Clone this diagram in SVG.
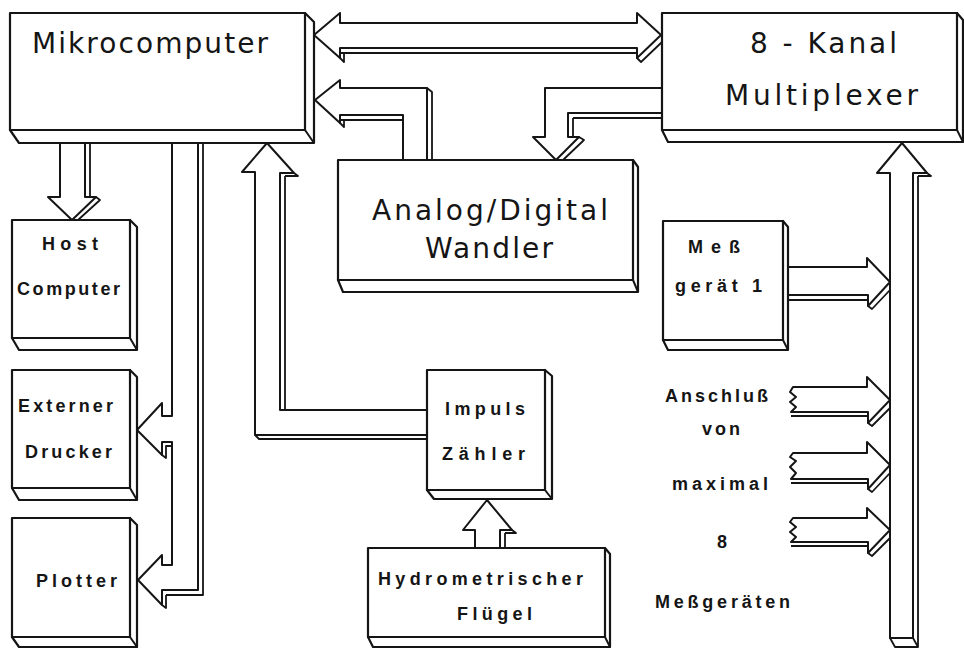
<svg xmlns="http://www.w3.org/2000/svg" width="964" height="648" viewBox="0 0 964 648">
<defs>
<style>
.b{fill:#fff;stroke:#151515;stroke-width:2.2;stroke-linejoin:round}
.l{fill:none;stroke:#151515;stroke-width:2;stroke-linejoin:round}
.a{fill:#fff;stroke:#151515;stroke-width:2;stroke-linejoin:round}
.s{fill:none;stroke:#151515;stroke-width:1.8;stroke-linejoin:round}
.t1{font-family:"DejaVu Sans","Liberation Sans",sans-serif;font-size:28px;fill:#151515}
.t2{font-family:"Liberation Sans",Arial,sans-serif;font-weight:bold;font-size:18px;fill:#151515}
</style>
</defs>
<rect width="964" height="648" fill="#fff"/>
<g id="connectors">
<!-- Mikrocomputer <-> Multiplexer -->
<path class="a" d="M314,35 L340,13 L340,23 L637,23 L637,13 L661,35 L637,58 L637,48 L340,48 L340,58 Z"/>
<path class="s" d="M340,53 L637,53 M340,58 L344,62 L344,53 M637,58 L641,62 L662,42"/>
<!-- A/D -> Mikrocomputer -->
<path class="a" d="M315,100 L340,80 L340,88 L427,88 L427,160 L403,160 L403,115 L340,115 L340,123 Z"/>
<path class="s" d="M427,88 L432,92 L432,160 M340,120 L403,120 M340,123 L344,127 L344,120"/>
<!-- Multiplexer -> A/D -->
<path class="a" d="M662,88 L545,88 L545,137 L533,137 L556,160 L579,137 L568,137 L568,113 L662,113 Z"/>
<path class="s" d="M573,118 L662,118 M573,118 L573,137 M579,137 L584,140 L563,160"/>
<!-- Mikrocomputer -> Host -->
<path class="a" d="M60,143 L60,197 L48,197 L72,220 L96,197 L85,197 L85,143 Z"/>
<path class="s" d="M90,143 L90,197 M96,197 L100,200 L78,220"/>
<!-- bus to Drucker / Plotter -->
<path class="a" d="M172,143 L172,416 L162,416 L162,403 L137,430 L162,455 L162,442 L172,442 L172,565 L162,565 L162,555 L138,580 L162,605 L162,590 L198,590 L198,143 Z"/>
<path class="s" d="M203,143 L203,595 L166,595 M162,605 L166,608 L166,595 M162,455 L166,458 L166,446 L172,446"/>
<!-- Impuls Zähler -> Mikrocomputer -->
<path class="a" d="M427,410 L280,410 L280,173 L294,173 L267,143 L242,172 L255,172 L255,435 L427,435 Z"/>
<path class="s" d="M285,176 L285,410 M255,435 L259,439 L427,439 M294,173 L298,176 L285,176"/>
<!-- Hydrometrischer Flügel -> Impuls Zähler -->
<path class="a" d="M475,548 L475,530 L463,530 L487,500 L512,530 L500,530 L500,548 Z"/>
<path class="s" d="M505,533 L505,548 M512,530 L516,533 L505,533"/>
<!-- Multiplexer bus -->
<path class="a" d="M890,638 L890,173 L877,173 L902,143 L927,173 L913,173 L913,638 Z"/>
<path class="s" d="M918,176 L918,647 L895,647 L890,638 M913,638 L918,647 M927,173 L931,176 L918,176"/>
<!-- Meßgerät 1 -> bus -->
<path class="a" d="M788,267 L867,267 L867,258 L890,282 L868,306 L868,295 L788,295 Z"/>
<path class="s" d="M788,300 L868,300 M868,306 L872,309 L890,290"/>
<!-- Anschluß arrows -->
<path class="a" d="M793,387 L867,387 L867,377 L890,400 L868,423 L868,412 L791,412 L796,407 L790,402 L796,397 L790,392 Z"/>
<path class="s" d="M791,416 L868,416 M868,423 L872,426 L890,408"/>
<path class="a" d="M793,453 L867,453 L867,442 L890,465 L868,489 L868,479 L791,479 L796,473 L790,467 L796,461 L790,457 Z"/>
<path class="s" d="M791,483 L868,483 M868,489 L872,492 L890,473"/>
<path class="a" d="M793,518 L867,518 L867,508 L890,530 L868,553 L868,542 L791,542 L796,537 L790,532 L796,527 L790,522 Z"/>
<path class="s" d="M791,546 L868,546 M868,553 L872,556 L890,538"/>
</g>
<g id="mikrocomputer">
<path class="b" d="M305,13 L314,22 L314,143 L19,143 L10,130 Z"/>
<path class="l" d="M305,130 L314,143"/>
<rect class="b" x="10" y="13" width="295" height="117"/>
<text class="t1" x="32" y="53" textLength="236">Mikrocomputer</text>
</g>
<g id="multiplexer">
<path class="b" d="M957,13 L963,20 L963,142 L668,142 L662,130 Z"/>
<path class="l" d="M957,130 L963,142"/>
<rect class="b" x="662" y="13" width="295" height="117"/>
<text class="t1" x="750" y="53" textLength="147" font-size="27">8 - Kanal</text>
<text class="t1" x="725" y="105" textLength="193" font-size="27">Multiplexer</text>
</g>
<g id="ad-wandler">
<path class="b" d="M633,160 L638,167 L638,292 L343,292 L338,280 Z"/>
<path class="l" d="M633,280 L638,292"/>
<rect class="b" x="338" y="160" width="295" height="120"/>
<text class="t1" x="372" y="220" textLength="236" font-size="30">Analog/Digital</text>
<text class="t1" x="425" y="258" textLength="128" font-size="30">Wandler</text>
</g>
<g id="host">
<path class="b" d="M130,220 L137,227 L137,350 L19,350 L12,338 Z"/>
<path class="l" d="M130,338 L137,350"/>
<rect class="b" x="12" y="220" width="118" height="118"/>
<text class="t2" x="42" y="250" textLength="56">Host</text>
<text class="t2" x="17" y="295" textLength="103">Computer</text>
</g>
<g id="drucker">
<path class="b" d="M130,370 L137,377 L137,500 L19,500 L12,488 Z"/>
<path class="l" d="M130,488 L137,500"/>
<rect class="b" x="12" y="370" width="118" height="118"/>
<text class="t2" x="18" y="412" textLength="95">Externer</text>
<text class="t2" x="25" y="458" textLength="87">Drucker</text>
</g>
<g id="plotter">
<path class="b" d="M130,518 L137,525 L137,647 L19,647 L12,637 Z"/>
<path class="l" d="M130,637 L137,647"/>
<rect class="b" x="12" y="518" width="118" height="119"/>
<text class="t2" x="36" y="587" textLength="81">Plotter</text>
</g>
<g id="impuls">
<path class="b" d="M545,370 L552,376 L552,499 L434,499 L427,490 Z"/>
<path class="l" d="M545,490 L552,499"/>
<rect class="b" x="427" y="370" width="118" height="120"/>
<text class="t2" x="445" y="415" textLength="80">Impuls</text>
<text class="t2" x="442" y="460" textLength="83">Zähler</text>
</g>
<g id="hydro">
<path class="b" d="M605,548 L610,554 L610,647 L373,647 L368,637 Z"/>
<path class="l" d="M605,637 L610,647"/>
<rect class="b" x="368" y="548" width="237" height="89"/>
<text class="t2" x="378" y="585" textLength="205">Hydrometrischer</text>
<text class="t2" x="457" y="620" textLength="75">Flügel</text>
</g>
<g id="messgeraet1">
<path class="b" d="M783,221 L788,227 L788,350 L668,350 L663,340 Z"/>
<path class="l" d="M783,340 L788,350"/>
<rect class="b" x="663" y="221" width="120" height="119"/>
<text class="t2" x="688" y="253" textLength="52">Meß</text>
<text class="t2" x="675" y="292" textLength="87">gerät 1</text>
</g>
<g id="anschluss-text">
<text class="t2" x="665" y="402" textLength="103">Anschluß</text>
<text class="t2" x="702" y="435" textLength="38">von</text>
<text class="t2" x="672" y="490" textLength="96">maximal</text>
<text class="t2" x="722" y="548" text-anchor="middle">8</text>
<text class="t2" x="655" y="608" textLength="135">Meßgeräten</text>
</g>
</svg>
